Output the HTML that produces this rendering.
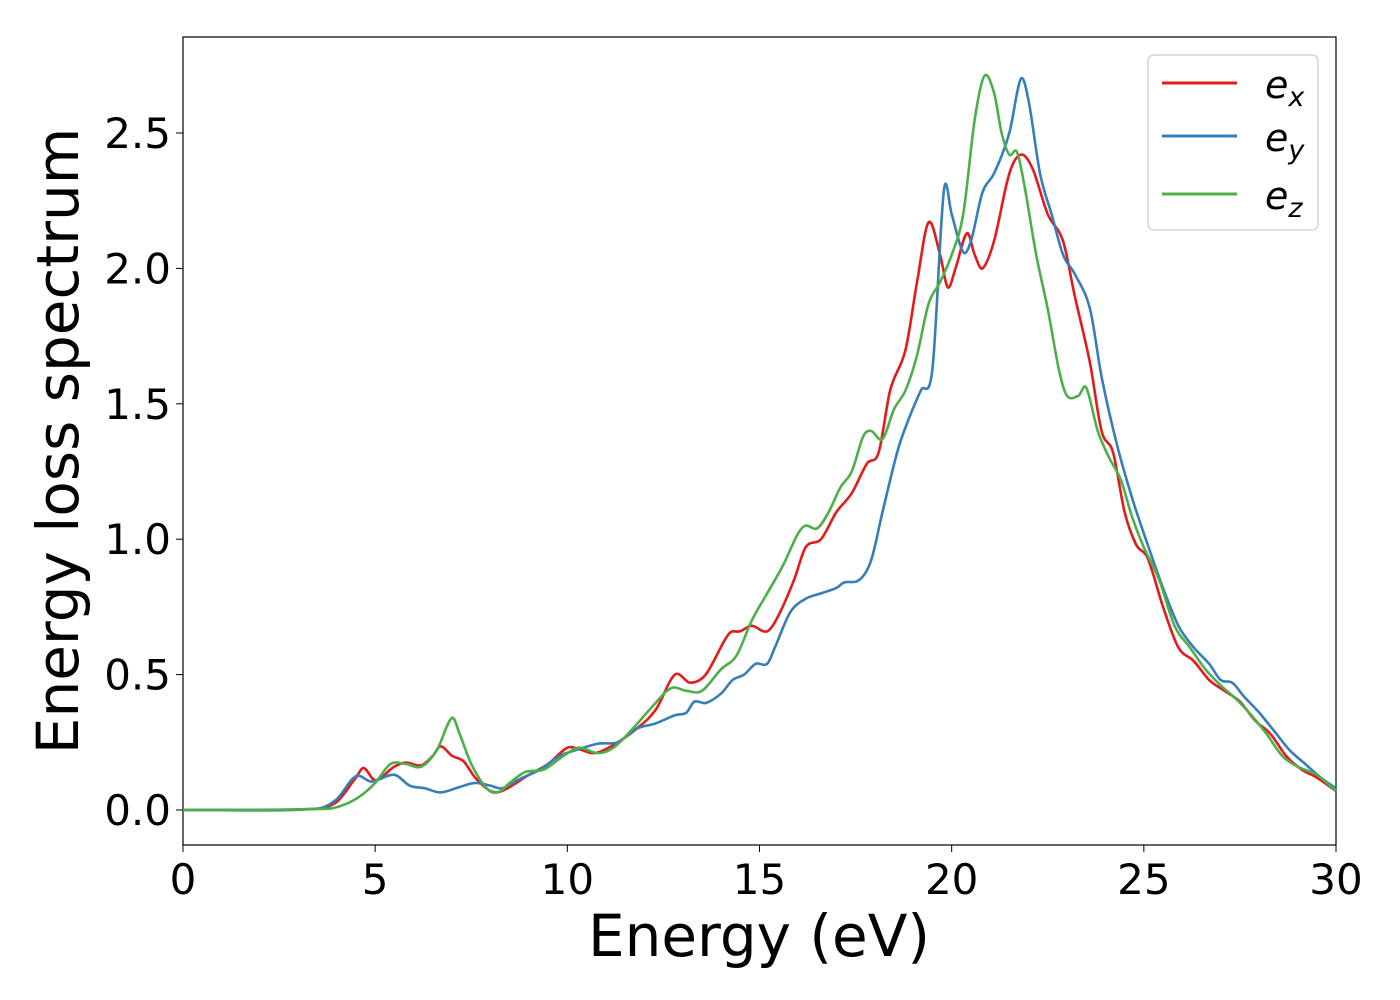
<!DOCTYPE html>
<html><head><meta charset="utf-8"><style>
body{margin:0;background:#fff;}
svg{display:block;font-family:"DejaVu Sans","Liberation Sans",sans-serif;}
</style></head><body>
<svg id="chart" width="1400" height="1000">
<rect x="183" y="37" width="1153" height="808" fill="#fff" stroke="#000" stroke-width="1.2"/>
<g id="series"></g>
<g id="axes"></g>
<text x="759" y="956" font-size="58" text-anchor="middle">Energy (eV)</text>
<text transform="translate(78,441) rotate(-90)" font-size="58" text-anchor="middle">Energy loss spectrum</text>
<g>
<rect x="1148" y="55" width="170" height="175" rx="6" fill="#fff" stroke="#ccc" stroke-width="1.2"/>
<g><line x1="1162" y1="83" x2="1237" y2="83" stroke="#e41a1c" stroke-width="3"/><text x="1265" y="98" font-size="38" font-style="italic">e<tspan font-size="27" dy="8">x</tspan></text></g>
<g><line x1="1162" y1="136" x2="1237" y2="136" stroke="#377eb8" stroke-width="3"/><text x="1265" y="151" font-size="38" font-style="italic">e<tspan font-size="27" dy="8">y</tspan></text></g>
<g><line x1="1162" y1="194" x2="1237" y2="194" stroke="#4daf4a" stroke-width="3"/><text x="1265" y="209" font-size="38" font-style="italic">e<tspan font-size="27" dy="8">z</tspan></text></g>
</g>
</svg>
<script>
const xTicks=[0,5,10,15,20,25,30];
const yTicks=[0.0,0.5,1.0,1.5,2.0,2.5];
const yTickLabels=["0.0","0.5","1.0","1.5","2.0","2.5"];
const exE=[0,3.5,4,4.5,4.7,5.0,5.5,5.8,6.2,6.5,6.7,7.0,7.3,7.6,8.0,8.3,9,9.5,10,10.3,10.7,11.2,11.8,12.3,12.8,13.2,13.6,14.2,14.5,14.8,15.2,15.5,15.9,16.2,16.6,17.0,17.4,17.8,18.1,18.4,18.8,19.1,19.4,19.7,19.9,20.1,20.4,20.6,20.8,21.1,21.5,21.8,22.1,22.5,22.9,23.2,23.6,23.9,24.2,24.5,24.8,25.1,25.5,25.9,26.3,26.7,27.1,27.5,27.9,28.3,28.7,29.1,29.5,30];
const exV=[0,0.005,0.03,0.12,0.155,0.11,0.16,0.175,0.165,0.2,0.235,0.2,0.18,0.12,0.07,0.07,0.13,0.17,0.23,0.225,0.21,0.24,0.3,0.37,0.5,0.47,0.5,0.65,0.66,0.68,0.66,0.72,0.85,0.97,1.0,1.1,1.17,1.28,1.32,1.55,1.7,1.95,2.17,2.05,1.93,2.0,2.13,2.05,2.0,2.1,2.35,2.42,2.37,2.2,2.1,1.9,1.65,1.4,1.32,1.1,0.98,0.93,0.75,0.6,0.55,0.48,0.44,0.4,0.33,0.28,0.2,0.15,0.12,0.07];
const eyE=[0,3.5,4,4.5,4.9,5.5,5.9,6.3,6.7,7.2,7.6,8.0,8.3,8.7,9.3,9.8,10.2,10.8,11.3,11.8,12.3,12.8,13.1,13.3,13.6,14.0,14.3,14.6,14.9,15.2,15.4,15.8,16.2,16.6,17.0,17.2,17.6,17.9,18.2,18.6,18.9,19.2,19.5,19.8,20.0,20.3,20.5,20.8,21.1,21.5,21.8,22.0,22.3,22.6,22.9,23.2,23.6,23.9,24.3,24.7,25.1,25.5,25.9,26.3,26.7,27.0,27.3,27.6,28.0,28.4,28.8,29.2,29.6,30];
const eyV=[0,0.005,0.04,0.125,0.105,0.13,0.09,0.08,0.065,0.085,0.1,0.09,0.08,0.11,0.15,0.2,0.22,0.245,0.25,0.3,0.32,0.35,0.36,0.4,0.395,0.43,0.48,0.5,0.54,0.54,0.6,0.73,0.78,0.8,0.82,0.84,0.85,0.92,1.1,1.33,1.45,1.55,1.63,2.29,2.2,2.06,2.1,2.28,2.35,2.5,2.7,2.62,2.35,2.2,2.05,1.98,1.85,1.6,1.35,1.15,0.98,0.82,0.68,0.6,0.54,0.48,0.47,0.42,0.36,0.29,0.22,0.17,0.12,0.08];
const ezE=[0,3.8,4.2,4.6,5.0,5.4,5.8,6.2,6.6,7.0,7.2,7.5,7.9,8.2,8.5,8.9,9.4,9.9,10.3,10.8,11.2,11.7,12.2,12.7,13.1,13.5,14.0,14.4,14.8,15.2,15.6,16.0,16.2,16.5,16.8,17.1,17.4,17.7,17.9,18.2,18.5,18.8,19.1,19.4,19.7,20.0,20.3,20.6,20.85,21.1,21.3,21.5,21.7,21.9,22.2,22.5,22.8,23.0,23.3,23.5,23.8,24.1,24.4,24.7,25.0,25.4,25.8,26.2,26.6,27.0,27.4,27.8,28.2,28.6,29.0,29.5,30];
const ezV=[0,0.005,0.02,0.05,0.1,0.17,0.17,0.16,0.22,0.34,0.28,0.17,0.08,0.065,0.1,0.14,0.15,0.2,0.23,0.21,0.23,0.3,0.38,0.45,0.44,0.44,0.52,0.57,0.7,0.8,0.9,1.02,1.05,1.04,1.1,1.19,1.25,1.38,1.4,1.37,1.48,1.55,1.68,1.87,1.95,2.05,2.2,2.55,2.71,2.65,2.5,2.42,2.43,2.3,2.05,1.85,1.62,1.53,1.53,1.56,1.4,1.3,1.22,1.08,0.97,0.85,0.68,0.6,0.52,0.46,0.41,0.35,0.28,0.2,0.16,0.13,0.07];

const X=v=>183+v*(1153/30);
const Y=v=>810-v*270.8;
const NS="http://www.w3.org/2000/svg";
const axes=document.getElementById('axes');
xTicks.forEach(t=>{
  const l=document.createElementNS(NS,'line');
  l.setAttribute('x1',X(t));l.setAttribute('x2',X(t));l.setAttribute('y1',845);l.setAttribute('y2',852);l.setAttribute('stroke','#000');
  
  
  axes.appendChild(l);
  const s=document.createElementNS(NS,'text');
  s.setAttribute('x',X(t));s.setAttribute('y',894);s.setAttribute('font-size','42');s.setAttribute('text-anchor','middle');
  s.textContent=t;
  
  
  axes.appendChild(s);
});
yTicks.forEach((t,i)=>{
  const l=document.createElementNS(NS,'line');
  l.setAttribute('x1',176);l.setAttribute('x2',183);l.setAttribute('y1',Y(t));l.setAttribute('y2',Y(t));l.setAttribute('stroke','#000');
  
  
  axes.appendChild(l);
  const s=document.createElementNS(NS,'text');
  s.setAttribute('x',171);s.setAttribute('y',Y(t)+15);s.setAttribute('font-size','42');s.setAttribute('text-anchor','end');
  s.textContent=yTickLabels[i];
  
  
  axes.appendChild(s);
});
function path(xs,vs){
  const p=xs.map((x,i)=>[X(x),Y(vs[i])]);
  const n=p.length;
  const m=p.map((q,i)=>{
    const a=p[Math.max(0,i-1)],b=p[Math.min(n-1,i+1)];
    return (b[1]-a[1])/(b[0]-a[0]);
  });
  let d='M'+p[0][0]+','+p[0][1];
  for(let i=0;i<n-1;i++){
    const dx=(p[i+1][0]-p[i][0])/3;
    d+=' C'+(p[i][0]+dx)+','+(p[i][1]+m[i]*dx)+' '+(p[i+1][0]-dx)+','+(p[i+1][1]-m[i+1]*dx)+' '+p[i+1][0]+','+p[i+1][1];
  }
  return d;
}
const g=document.getElementById('series');
[[exE,exV,'#e41a1c','line-ex'],[eyE,eyV,'#377eb8','line-ey'],[ezE,ezV,'#4daf4a','line-ez']].forEach(s=>{
  const el=document.createElementNS(NS,'path');
  el.setAttribute('d',path(s[0],s[1]));el.setAttribute('fill','none');el.setAttribute('stroke',s[2]);el.setAttribute('stroke-width','2.6');
  
  
  g.appendChild(el);
});
</script>
</body></html>
